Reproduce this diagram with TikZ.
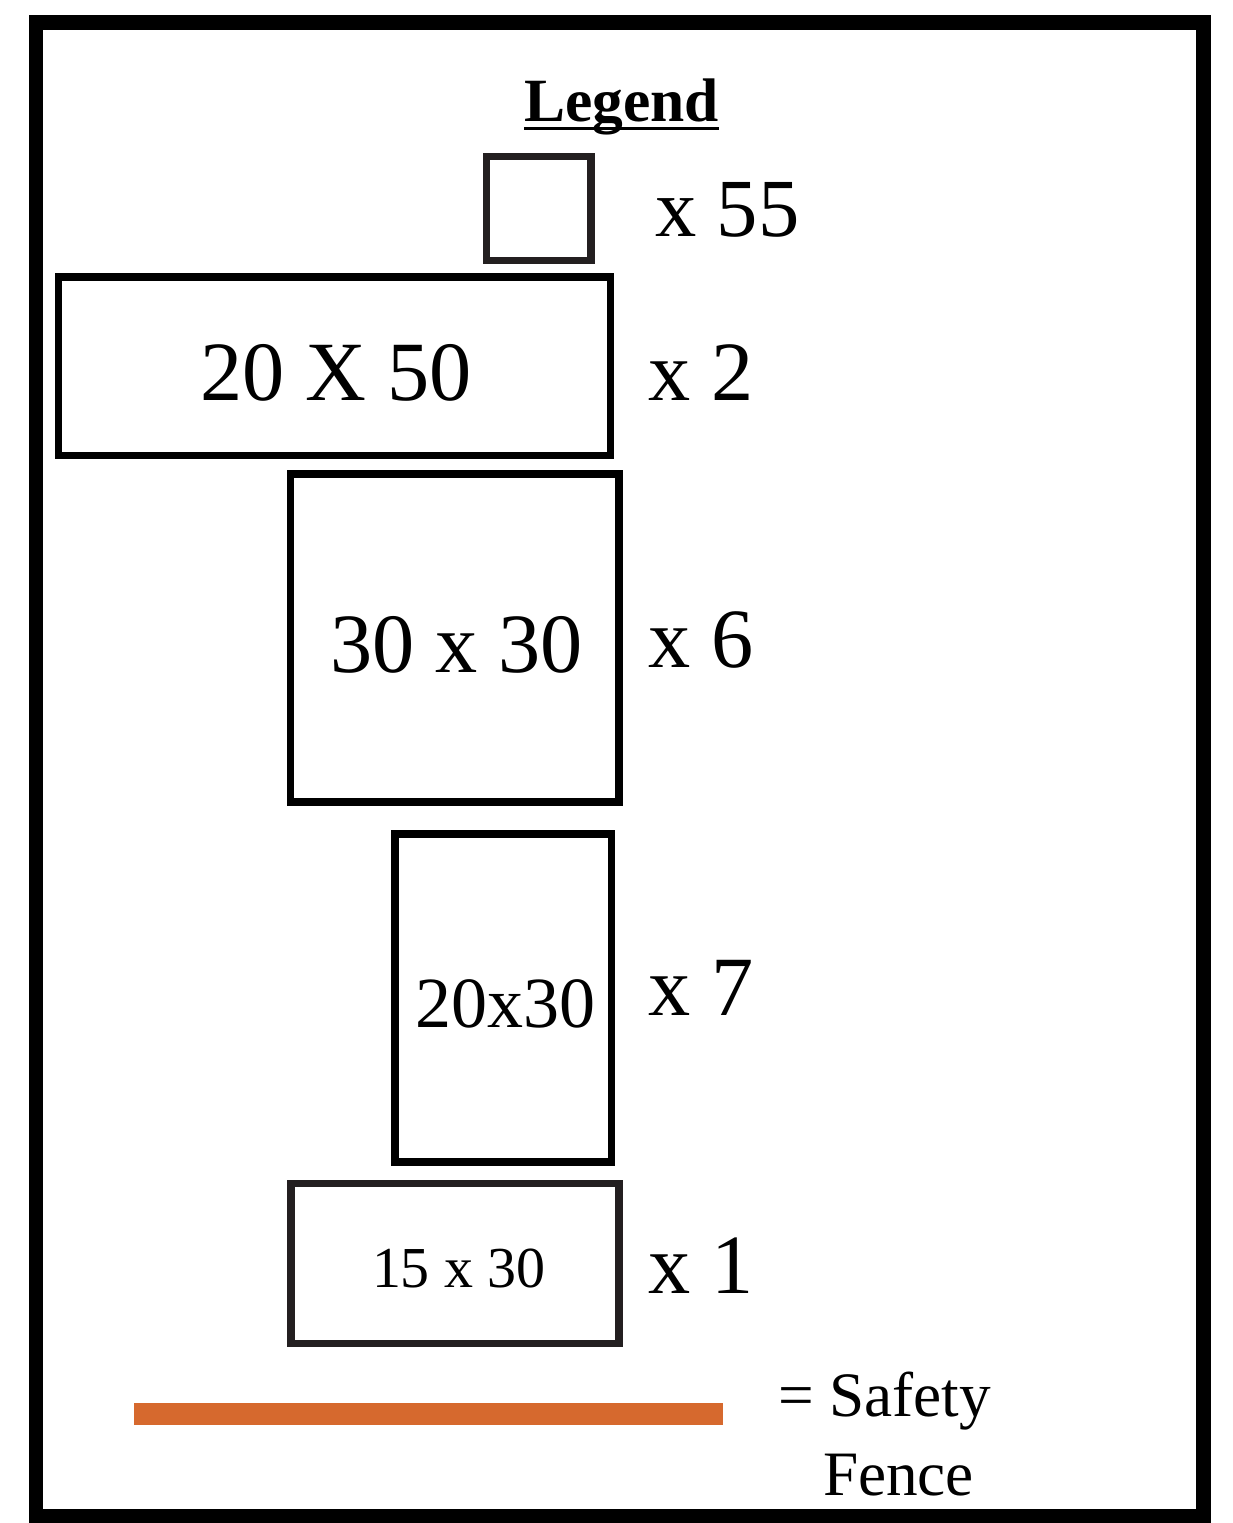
\documentclass[tikz,border=0pt]{standalone}
\usepackage{fontspec}
\setmainfont{Liberation Serif}
\definecolor{fenceorange}{RGB}{214,105,46}
\definecolor{darkgray}{RGB}{35,31,32}
\begin{document}
\begin{tikzpicture}[x=0.02cm,y=-0.02cm,
  frame/.style={line width=8.5pt,black},
  boxblack/.style={line width=4.3pt,black},
  boxgray/.style={line width=4.3pt,darkgray},
  lbl/.style={anchor=base west,inner sep=0pt,outer sep=0pt,text=black},
  fencebar/.style={fill=fenceorange,draw=none}]
\useasboundingbox (0,0) rectangle (1232,1523);
% outer frame
\draw[frame] (36,22.5) rectangle (1203.5,1516);
% legend title
\node[lbl,font=\fontsize{35}{40}\selectfont\bfseries] (legend) at (524,122) {Legend};
\draw[line width=1.7pt] ([yshift=-7*0.5669pt]legend.base west) -- ([yshift=-7*0.5669pt]legend.base east);
% small square
\draw[boxgray] (486.5,156.5) rectangle (591,260.5);
\node[lbl,font=\fontsize{47}{54}\selectfont] (n55) at (655,237) {x 55};
% 20 X 50
\draw[boxblack] (58.7,277) rectangle (610.3,455.3);
\node[lbl,font=\fontsize{48}{54}\selectfont] (t2050) at (200,400) {20 X 50};
\node[lbl,font=\fontsize{48}{54}\selectfont] (n2) at (648,400) {x 2};
% 30 x 30
\draw[boxblack] (290.5,474) rectangle (619,802);
\node[lbl,font=\fontsize{48}{54}\selectfont] (t3030) at (330,672) {30 x 30};
\node[lbl,font=\fontsize{48}{54}\selectfont] (n6) at (648,667) {x 6};
% 20x30
\draw[boxblack] (395,834) rectangle (611.5,1162);
\node[lbl,font=\fontsize{41}{48}\selectfont] (t2030) at (415,1027) {20x30};
\node[lbl,font=\fontsize{48}{54}\selectfont] (n7) at (648,1015) {x 7};
% 15 x 30
\draw[boxgray] (291,1183.3) rectangle (619,1343.5);
\node[lbl,font=\fontsize{33}{38}\selectfont] (t1530) at (372,1287) {15 x 30};
\node[lbl,font=\fontsize{48}{54}\selectfont] (n1) at (648,1293) {x 1};
% safety fence
\fill[fencebar] (134,1403) rectangle (723,1425);
\node[lbl,font=\fontsize{36}{42}\selectfont] (safety) at (778,1416) {= Safety};
\node[lbl,font=\fontsize{36}{42}\selectfont] (fence) at (823,1495) {Fence};
\end{tikzpicture}
\end{document}
